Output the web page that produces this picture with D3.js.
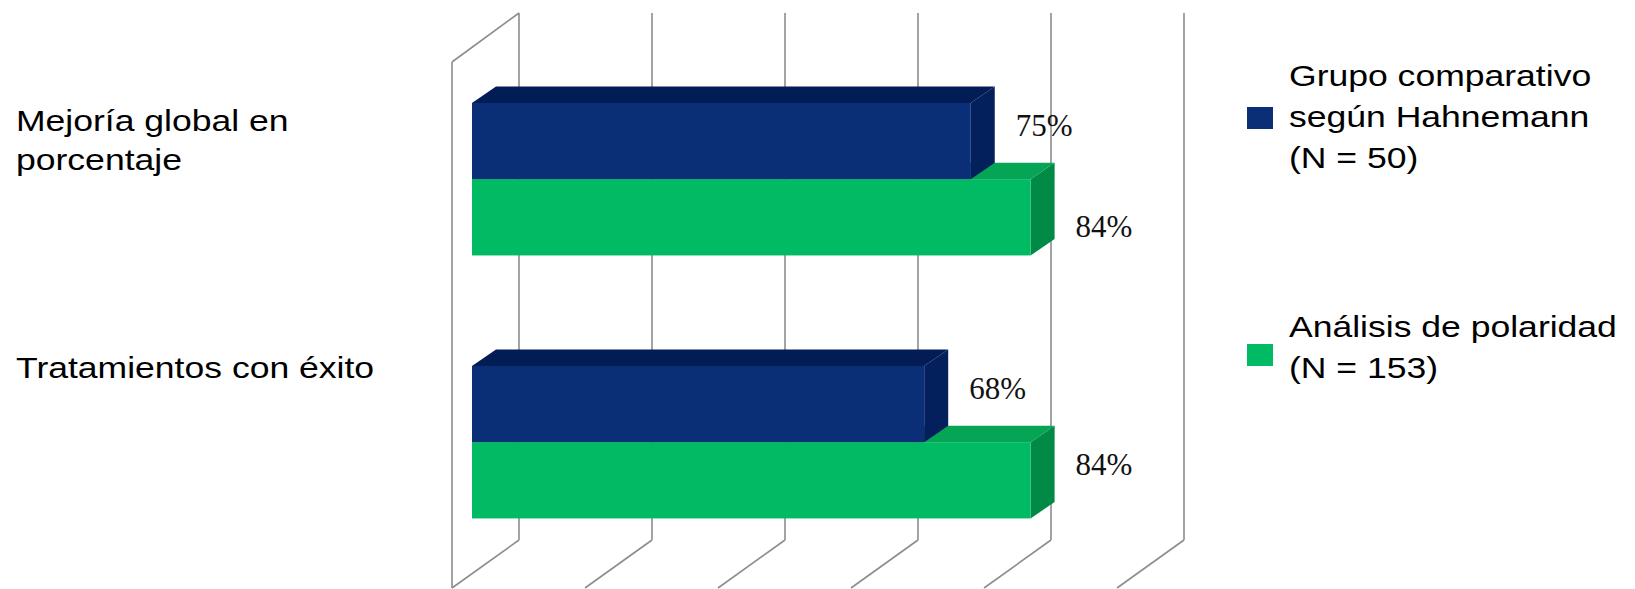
<!DOCTYPE html>
<html><head><meta charset="utf-8">
<script src="https://cdn.jsdelivr.net/npm/d3@7"></script>
<style>html,body{margin:0;padding:0;background:#fff}svg{display:block}</style>
</head><body>
<svg id="chart" width="1635" height="589"></svg>
<script>
// ---- data ----
const categories = ["Mejoría global en porcentaje", "Tratamientos con éxito"];
const seriesNames = ["Grupo comparativo según Hahnemann\n(N = 50)", "Análisis de polaridad\n(N = 153)"];
const hahnemannValues = [75, 68];
const polaridadValues = [84, 84];
const xTicks = [0, 20, 40, 60, 80, 100];

// ---- layout / style ----
const svg = d3.select("#chart");
const front = {left: 452, right: 1117, top: 62, bottom: 588};
const depth = {dx: 67, dy: -48};          // full depth of the 3D box
const barStart = 0.2985;                  // depth fraction of bar front face
const barDepth = {dx: 24, dy: -16.5};     // thickness of bars
const stretch = 1.185;                    // horizontal text stretch of the original
const colors = [
  {front: "#0a2f76", top: "#021c56", side: "#03205c"},
  {front: "#00bb63", top: "#05a555", side: "#008a45"}
];
const gridColor = "#8d8d8d";

const x = d3.scaleLinear().domain([0, 100]).range([front.left, front.right]);
const y = d3.scaleBand().domain(categories).range([front.top, front.bottom])
  .paddingInner(0.42).paddingOuter(0.21);
const ySub = d3.scaleBand().domain(d3.range(seriesNames.length)).range([0, y.bandwidth()]);
const labelY = d3.scalePoint().domain(categories).range([140, 367]);

const values = [hahnemannValues, polaridadValues];
const shiftX = barStart * depth.dx, shiftY = barStart * depth.dy;

// ---- gridlines / walls ----
const grid = svg.append("g").attr("stroke", gridColor).attr("stroke-width", 1.6).attr("fill", "none");
xTicks.forEach(t => {
  const fx = x(t), bx = fx + depth.dx;
  grid.append("line").attr("x1", bx).attr("x2", bx)
    .attr("y1", front.top + depth.dy - 1).attr("y2", front.bottom + depth.dy);
  grid.append("line").attr("x1", bx).attr("y1", front.bottom + depth.dy)
    .attr("x2", fx).attr("y2", front.bottom);
});
grid.append("line").attr("x1", x(0)).attr("x2", x(0)).attr("y1", front.top).attr("y2", front.bottom);
grid.append("line").attr("x1", x(0)).attr("y1", front.top)
  .attr("x2", x(0) + depth.dx).attr("y2", front.top + depth.dy - 1);

// ---- bars ----
const bars = svg.append("g");
categories.forEach((cat, ci) => {
  for (let si = seriesNames.length - 1; si >= 0; si--) {
    const v = values[si][ci];
    const x0 = x(0) + shiftX, x1 = x(v) + shiftX;
    const y0 = y(cat) + ySub(si) + shiftY, h = ySub.bandwidth(), y1 = y0 + h;
    const c = colors[si];
    const dx = barDepth.dx, dy = barDepth.dy;
    bars.append("path").attr("fill", c.side)
      .attr("d", `M${x1},${y0}L${x1 + dx},${y0 + dy}L${x1 + dx},${y1 + dy}L${x1},${y1}Z`);
    bars.append("path").attr("fill", c.top)
      .attr("d", `M${x0},${y0}L${x0 + dx},${y0 + dy}L${x1 + dx},${y0 + dy}L${x1},${y0}Z`);
    bars.append("rect").attr("x", x0).attr("y", y0).attr("width", x1 - x0).attr("height", h)
      .attr("fill", c.front);
  }
});

// ---- value labels ----
const labelNudge = (ci, si) => (ci === 0 && si === 1 ? 25 : 0);
const vl = svg.append("g").attr("font-family", "'Liberation Serif','DejaVu Serif',serif")
  .attr("font-size", 31).attr("fill", "#111");
categories.forEach((cat, ci) => {
  seriesNames.forEach((s, si) => {
    const v = values[si][ci];
    const yc = y(cat) + ySub(si) + shiftY + ySub.bandwidth() / 2 + barDepth.dy;
    vl.append("text")
      .attr("x", x(v) + shiftX + barDepth.dx + 21)
      .attr("y", yc + 11 + labelNudge(ci, si))
      .text(v + "%");
  });
});

// ---- helpers for stretched multi-line text ----
const sansFont = "'Liberation Sans', Arial, sans-serif";
function wrapLines(text, maxW) {
  const out = [];
  const measurer = svg.append("text").attr("font-family", sansFont).attr("font-size", 30);
  text.split("\n").forEach(par => {
    const words = par.split(" ");
    let line = "";
    words.forEach(w => {
      const test = line ? line + " " + w : w;
      measurer.text(test);
      if (line && measurer.node().getComputedTextLength() * stretch > maxW) {
        out.push(line); line = w;
      } else line = test;
    });
    out.push(line);
  });
  measurer.remove();
  return out;
}
function multiText(g, lines, x0, firstBaseline, lh) {
  const t = g.append("g").attr("transform", `translate(${x0},${firstBaseline}) scale(${stretch},1)`)
    .append("text").attr("font-family", sansFont).attr("font-size", 30).attr("fill", "#000");
  lines.forEach((ln, i) => t.append("tspan").attr("x", 0).attr("y", i * lh).text(ln));
}

// ---- category labels ----
const catG = svg.append("g");
categories.forEach(cat => {
  const lines = wrapLines(cat, 400);
  const lh = 39;
  const first = labelY(cat) + 10.8 - (lines.length - 1) / 2 * lh;
  multiText(catG, lines, 16, first, lh);
});

// ---- legend ----
const legG = svg.append("g");
const legendFirstBaseline = [86, 337];
const legendSquareTop = [107, 344];
seriesNames.forEach((s, si) => {
  legG.append("rect").attr("x", 1247).attr("y", legendSquareTop[si])
    .attr("width", 26).attr("height", 22).attr("fill", colors[si].front);
  multiText(legG, wrapLines(s, 350), 1289, legendFirstBaseline[si], 41);
});
</script>
</body></html>
